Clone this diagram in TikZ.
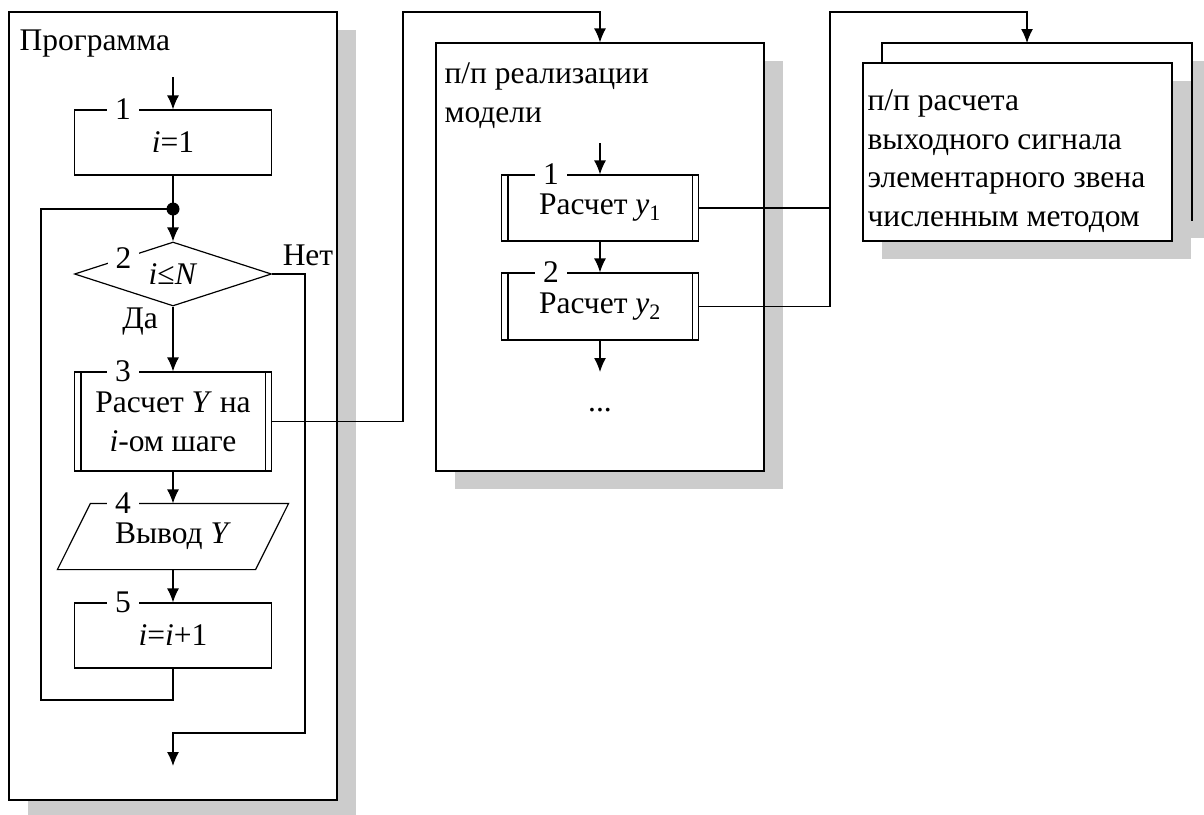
\documentclass[tikz,border=0pt]{standalone}
\usepackage{fontspec}
\setmainfont{Liberation Serif}
\usetikzlibrary{shapes.geometric,arrows.meta,calc,shadows}

\begin{document}
\begin{tikzpicture}[x=1pt,y=-1pt,line width=1.2pt,font=\fontsize{31.5}{39}\selectfont]
\tikzset{
    arr/.style={-{Latex[length=14pt,width=12pt]}},
    frame/.style={draw,fill=white,inner sep=0pt,
        drop shadow={shadow xshift=19pt,shadow yshift=-18pt,fill=black!20,opacity=1}},
    box/.style={draw,fill=white,rectangle,minimum width=197pt,minimum height=65pt,inner sep=0pt,align=center},
    cond/.style={draw,fill=white,diamond,aspect=3,minimum width=197pt,minimum height=64pt,inner sep=0pt},
    num/.style={fill=white,inner sep=0pt,inner xsep=8pt},
    txt/.style={inner sep=0pt,align=left,anchor=base west},
}
\useasboundingbox (0,0) rectangle (1204,814);

% Frames with shadows
\node[frame,minimum width=328pt,minimum height=788pt] (prog) at (173,406) {};
\node[frame,minimum width=328pt,minimum height=428pt] (sub) at (600,257) {};
\node[frame,minimum width=310pt,minimum height=177pt] (back) at (1037,131.5) {};
\node[frame,minimum width=309pt,minimum height=178pt] (front) at (1017.5,152) {};

% the base of a text is its last line
\node[txt] (tprog) at (19,50) {Программа};
\node[txt] (tsub) at (444,122) {п/п реализации\\модели};
\node[txt,font=\fontsize{31.5}{38.5}\selectfont] (tfront) at (867,226) {п/п расчета\\выходного сигнала\\элементарного звена\\численным методом};

% Main program
\coordinate (start) at (173,77);
\node[box] (b1) at (173,142.5) {\textit{i}=1};
\coordinate (dot) at (173,209);
\node[cond] (d2) at (173,274) {\textit{i}≤\textit{N}};
\node[box,minimum height=99pt] (b3) at (173,421.5) {Расчет \textit{Y} на\\\textit{i}-ом шаге};
\node[inner sep=0pt,minimum width=230pt,minimum height=65pt] (b4) at (173,536.5) {Вывод \textit{Y}};
\draw ($(b4.north west)+(33,0)$) -- (b4.north east) -- ($(b4.south east)-(33,0)$) -- (b4.south west) -- cycle;
\node[box] (b5) at (173,635.5) {\textit{i}=\textit{i}+1};
\coordinate (loop) at (41,700);
\coordinate (no) at (305,733);
\coordinate (stop) at (173,766);

\draw[arr] (start) -- (b1);
\draw (b1) -- (dot);
\fill (dot) circle (6.5pt);
\draw[arr] (dot) -- (d2);
\draw[arr] (d2) -- (b3);
\draw[arr] (b3) -- (b4.north);
\draw[arr] (b4.south) -- (b5);
\draw (b5.south) |- (loop) |- (dot);
\draw[arr] (d2.east) -| (no) -| (stop);
\node at (140,322) {Да};
\node at (308,255) {Нет};

% Model subroutine
\coordinate (min) at (600,143);
\node[box,minimum height=66pt] (m1) at (600,208) {Расчет \textit{y}\textsubscript{1}};
\node[box,minimum height=67pt] (m2) at (600,306.5) {Расчет \textit{y}\textsubscript{2}};
\coordinate (mout) at (600,372);
\node[inner sep=0pt] (dots) at (600,410) {...};
\draw[arr] (min) -- (m1);
\draw[arr] (m1) -- (m2);
\draw[arr] (m2) -- (mout);

% Double side lines of the subroutine boxes
\foreach \b in {b3,m1,m2}{
    \draw ([xshift=7pt]\b.north west) -- ([xshift=7pt]\b.south west);
    \draw ([xshift=-7pt]\b.north east) -- ([xshift=-7pt]\b.south east);
}

% Block numbers
\node[num] at ([xshift=-50pt]b1.north) {1};
\node[num] at ($(d2.west)!0.5!(d2.north)$) {2};
\node[num] at ([xshift=-50pt]b3.north) {3};
\node[num] at ([xshift=-50pt]b4.north) {4};
\node[num] at ([xshift=-50pt]b5.north) {5};
\node[num] at ([xshift=-49pt]m1.north) {1};
\node[num] at ([xshift=-49pt]m2.north) {2};

% Calls
\coordinate (call1) at (403,12);
\coordinate (call2) at (830,12);
\coordinate (tgt) at (1027,43);
\draw[arr] (b3.east) -| (call1) -| (sub.north);
\draw (m1.east) -- (m1.east -| call2);
\draw[arr] (m2.east) -| (call2) -| (tgt);
\end{tikzpicture}
\end{document}
